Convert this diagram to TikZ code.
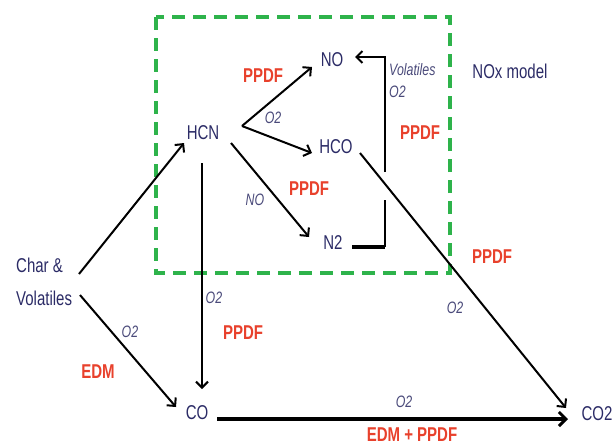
\documentclass[tikz,border=0pt]{standalone}
\usepackage{fontspec}
\setmainfont[FakeStretch=0.75]{Liberation Sans}
\usetikzlibrary{arrows.meta}
\definecolor{navy}{HTML}{2B2B66}
\definecolor{lbl}{HTML}{4A4A7A}
\definecolor{pred}{HTML}{E8412C}
\definecolor{dgreen}{HTML}{2EB34B}
\begin{document}
\begin{tikzpicture}[x=1pt,y=-1pt,
  sp/.style={font=\fontsize{20}{20}\selectfont, text=navy, inner sep=0pt},
  lab/.style={font=\fontsize{16.5}{16.5}\selectfont\itshape, text=lbl, inner sep=0pt},
  mdl/.style={font=\fontsize{20}{20}\selectfont\bfseries, text=pred, inner sep=0pt},
  conn/.style={draw=black, line width=2pt, -{Straight Barb[length=6pt,width=12pt,line width=2pt]}},
  thickconn/.style={conn, line width=4pt, -{Straight Barb[length=7pt,width=14pt,line width=3pt]}},
  plain/.style={draw=black, line width=2.5pt},
  box/.style={draw=dgreen, line width=3.5pt, dash pattern=on 13pt off 8pt}
]
\useasboundingbox (0,0) rectangle (615,445);
% NOx model box
\draw[box] (156,17) rectangle (450,273);
% species
\node[sp] (hcn) at (203,133) {HCN};
\node[sp] (no) at (332,60) {NO};
\node[sp] (hco) at (336,147) {HCO};
\node[sp] (n2) at (333,243) {N2};
\node[sp, anchor=west, align=left, font=\fontsize{20}{33}\selectfont] (cv) at (16,282) {Char \&\\Volatiles};
\node[sp] (co) at (197,413) {CO};
\node[sp] (co2) at (597,414) {CO2};
\node[sp] (nox) at (510,71) {NOx model};
% connector end points
\coordinate (cvA) at (79,274);
\coordinate (cvB) at (80,295);
\coordinate (hcnIn) at (184,143);
\coordinate (coIn) at (176,407);
\coordinate (br) at (242,126);
\coordinate (noIn) at (312,67);
\coordinate (hcoIn) at (312,153);
\coordinate (hcnB) at (231,143);
\coordinate (n2In) at (309,237);
\coordinate (hcnD) at (202,163);
\coordinate (coTop) at (202,389);
\coordinate (hcoOut) at (360,153);
\coordinate (co2In) at (566,408);
\coordinate (coOut) at (217,419);
\coordinate (co2L) at (568,419);
\coordinate (n2Out) at (352,247);
\coordinate (brk) at (385,247);
\coordinate (gapLo) at (385,200);
\coordinate (gapHi) at (385,172);
\coordinate (brkTop) at (385,57);
\coordinate (noRt) at (355,57);
% connectors
\draw[conn] (cvA) -- (hcnIn);
\draw[conn] (cvB) -- (coIn);
\draw[conn] (br) -- (noIn);
\draw[conn] (br) -- (hcoIn);
\draw[conn] (hcnB) -- (n2In);
\draw[conn, line width=1.8pt] (hcnD) -- (coTop);
\draw[conn] (hcoOut) -- (co2In);
\draw[thickconn] (coOut) -- (co2L);
\draw[draw=black, line width=4.5pt] (n2Out) -- (brk);
\draw[plain] (brk) -- (gapLo);
\draw[conn, line width=2.2pt] (gapHi) -- (brkTop) -- (noRt);
% labels
\node[mdl] (l1) at (263,76) {PPDF};
\node[lab] (l2) at (273,118) {O2};
\node[mdl] (l3) at (309,189) {PPDF};
\node[lab] (l4) at (255,200) {NO};
\node[lab, anchor=west] (l5) at (389,70) {Volatiles};
\node[lab, anchor=west] (l6) at (389,92) {O2};
\node[mdl] (l7) at (420,133) {PPDF};
\node[mdl] (l8) at (492,257) {PPDF};
\node[lab] (l9) at (455,308) {O2};
\node[lab] (l10) at (214,298) {O2};
\node[mdl] (l11) at (243,333) {PPDF};
\node[lab] (l12) at (130,332) {O2};
\node[mdl] (l13) at (98,372) {EDM};
\node[lab] (l14) at (404,402) {O2};
\node[mdl] (l15) at (412,435) {EDM + PPDF};
\end{tikzpicture}
\end{document}
